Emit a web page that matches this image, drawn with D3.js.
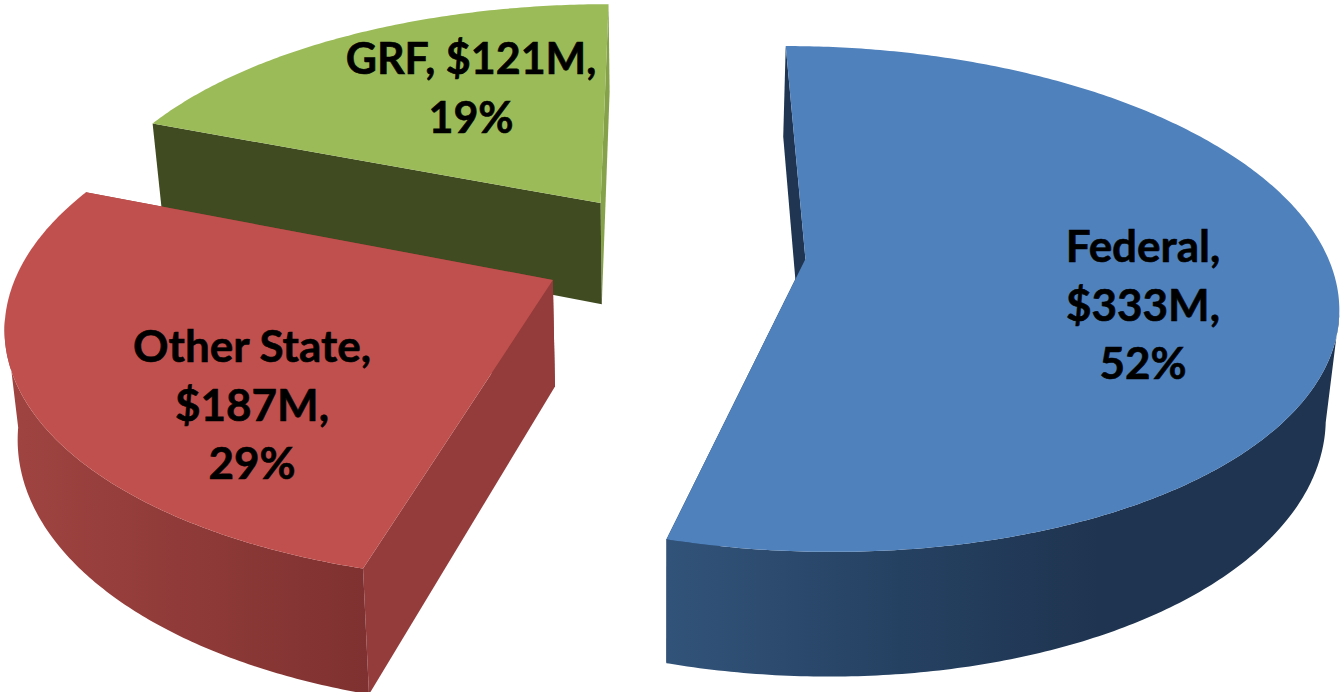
<!DOCTYPE html>
<html>
<head>
<meta charset="utf-8">
<script src="https://cdn.jsdelivr.net/npm/d3@7"></script>
<style>
  html, body { margin: 0; padding: 0; background: #fff; }
  svg { display: block; }
  text { font-family: Lato, "Open Sans", sans-serif; font-weight: 700; fill: #000; stroke: #000; stroke-width: 0.6px; }
</style>
</head>
<body>
<div id="chart"></div>
<script>
// Data
const names = ['Federal', 'Other State', 'GRF'];
const amounts = [333, 187, 121];
const percents = [52, 29, 19];

const width = 1344, height = 692;

// Camera, in pixels. The pie lies flat and is seen from above and in front.
const cam = {xc: 661, yh: 259, rx: 531, ry: 246.6, persp: 0.158, wall: 105, lean: 0.02};

// Layout of each slice, same order as names
const explode = [[0.272, 0], [-0.201, 0.084], [-0.118, -0.235]];
const rim_width = [0.985, 1, 1];
const top_color = ['#4f81bd', '#c0504d', '#9bbb59'];
const start_wall = ['#1f3552', '#933c3b', '#404b21'];
const end_wall = ['#1f3552', '#933c3b', '#85a24b'];
const rim_stops = [
  [[667, '#325379'], [900, '#254162'], [1100, '#1f3450'], [1340, '#1f3450']],
  [[5, '#a04441'], [370, '#7e3130']],
  [[150, '#404b21'], [610, '#404b21']]
];
const label_lines = [
  d => [`${d.name},`, `$${d.amount}M,`, `${d.percent}%`],
  d => [`${d.name},`, `$${d.amount}M,`, `${d.percent}%`],
  d => [`${d.name}, $${d.amount}M,`, `${d.percent}%`]
];
const label_pos = [[1143, 262], [252, 362], [471, 74]];
const label_size = [44, 44, 43];
const line_gap = 58.5;

const slices_data = names.map((name, i) => ({name, amount: amounts[i], percent: percents[i], i}));
const pie = d3.pie().value(d => d.amount).sort(null);
const arcs = pie(slices_data);

// The chart squeezes its angles near the front, so pie angles are bent a little
const deg = 180 / Math.PI;
const bend = d3.scaleLinear()
  .domain([0, arcs[0].endAngle * deg, arcs[1].endAngle * deg, 360])
  .range([0, 195.5, 291.5, 360]);

// ground point (u right, v towards the viewer, in radii) and height z in pixels below the top
function project(u, v, z = 0) {
  const s = 1 / (1 - cam.persp * v);
  const lean = z > 0 ? 1 - cam.lean : 1;
  return [
    cam.xc + u * cam.rx * s * lean,
    cam.yh + (v * cam.ry + z) * s
  ];
}

function rim_point(i, angle, z = 0) {
  const a = bend(angle * deg) / deg;
  return project(explode[i][0] + rim_width[i] * Math.sin(a), explode[i][1] - Math.cos(a), z);
}

function apex_point(i, z = 0) {
  return project(explode[i][0], explode[i][1], z);
}

function rim_angles(d, step = 0.01) {
  return d3.range(d.startAngle, d.endAngle, step).concat([d.endAngle]);
}

const svg = d3.select('#chart').append('svg')
  .attr('width', width)
  .attr('height', height);

const line = d3.line();
const defs = svg.append('defs');

rim_stops.forEach((stops, i) => {
  const grad = defs.append('linearGradient')
    .attr('id', `rim${i}`)
    .attr('gradientUnits', 'userSpaceOnUse')
    .attr('x1', stops[0][0]).attr('x2', stops[stops.length - 1][0])
    .attr('y1', 0).attr('y2', 0);
  stops.forEach(st => {
    grad.append('stop')
      .attr('offset', (st[0] - stops[0][0]) / (stops[stops.length - 1][0] - stops[0][0]))
      .attr('stop-color', st[1]);
  });
});

// far slice first
const draw_order = [2, 1, 0];

draw_order.forEach(i => {
  const d = arcs[i];
  const g = svg.append('g').attr('class', `slice slice${i}`);

  // the two cut faces
  [[d.endAngle, end_wall[i]], [d.startAngle, start_wall[i]]].forEach(([a, color]) => {
    g.append('path')
      .attr('d', line([
        apex_point(i), rim_point(i, a),
        rim_point(i, a, cam.wall), apex_point(i, cam.wall)
      ]) + 'Z')
      .attr('fill', color);
  });

  // the rim only shows between the two silhouette points of the disc
  const front = rim_angles(d).filter(a => {
    const view = bend(a * deg);
    return view > 102 && view < 262;
  });
  if (front.length) {
    const upper = front.map(a => rim_point(i, a));
    const lower = front.map(a => rim_point(i, a, cam.wall)).reverse();
    g.append('path')
      .attr('d', line(upper.concat(lower)) + 'Z')
      .attr('fill', `url(#rim${i})`);
  }

  // top face
  const top_pts = [apex_point(i)].concat(rim_angles(d).map(a => rim_point(i, a)));
  g.append('path')
    .attr('d', line(top_pts) + 'Z')
    .attr('fill', top_color[i]);
});

// Labels
svg.selectAll('text.label')
  .data(slices_data)
  .enter()
  .append('text')
  .attr('class', 'label')
  .attr('text-anchor', 'middle')
  .style('font-size', d => `${label_size[d.i]}px`)
  .attr('x', d => label_pos[d.i][0])
  .attr('y', d => label_pos[d.i][1])
  .each(function (d) {
    d3.select(this).selectAll('tspan')
      .data(label_lines[d.i](d))
      .enter()
      .append('tspan')
      .attr('x', label_pos[d.i][0])
      .attr('dy', (t, k) => (k ? line_gap : 0))
      .text(t => t);
  });
</script>
</body>
</html>
